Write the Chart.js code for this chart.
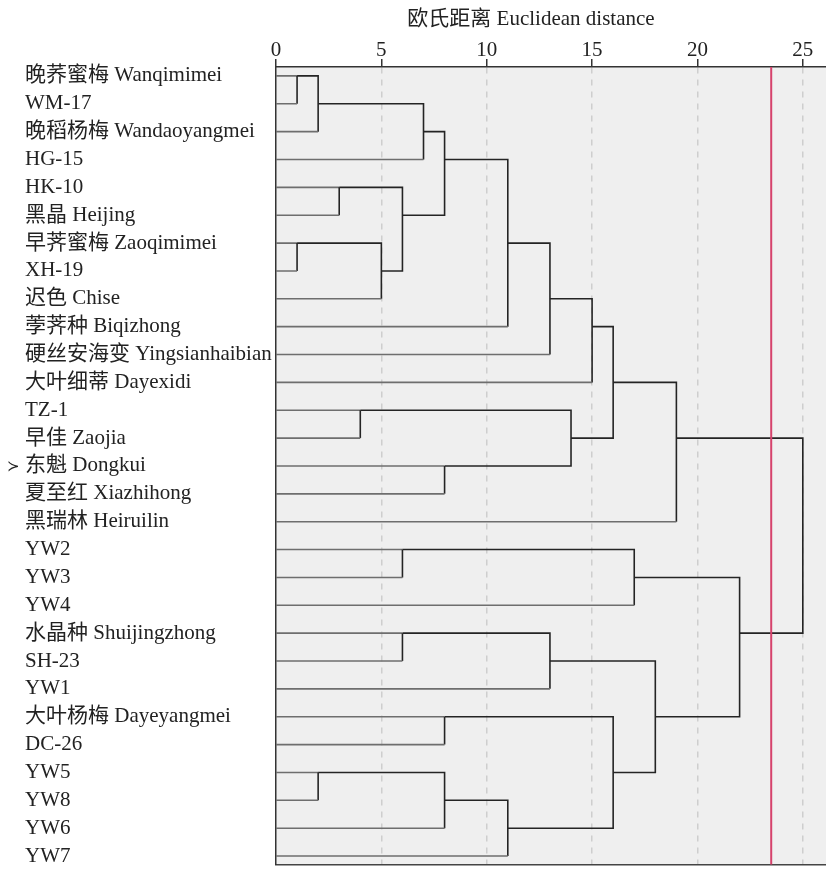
<!DOCTYPE html>
<html>
<head>
<meta charset="utf-8">
<script src="https://cdn.jsdelivr.net/npm/chart.js@4/dist/chart.umd.min.js"></script>
<style>
  html, body { margin: 0; padding: 0; background: #ffffff; }
  #wrap { width: 826px; height: 880px; }
</style>
</head>
<body>
<div id="wrap"><canvas id="c" width="826" height="880"></canvas></div>
<script>
// ---- data ----
const leafLabels = [
  "晚荞蜜梅 Wanqimimei", "WM-17", "晚稻杨梅 Wandaoyangmei", "HG-15", "HK-10",
  "黑晶 Heijing", "早荠蜜梅 Zaoqimimei", "XH-19", "迟色 Chise", "荸荠种 Biqizhong",
  "硬丝安海变 Yingsianhaibian", "大叶细蒂 Dayexidi", "TZ-1", "早佳 Zaojia", "东魁 Dongkui",
  "夏至红 Xiazhihong", "黑瑞林 Heiruilin", "YW2", "YW3", "YW4",
  "水晶种 Shuijingzhong", "SH-23", "YW1", "大叶杨梅 Dayeyangmei", "DC-26",
  "YW5", "YW8", "YW6", "YW7"
];
// merges: ids 0..28 are leaves, 29.. are merges in this order
const mergeLeft   = [0, 29, 30, 4, 6, 33, 32, 31, 36, 37, 38, 12, 14, 40, 39, 43, 17, 45, 20, 47, 23, 25, 50, 51, 49, 48, 46, 44];
const mergeRight  = [1, 2, 3, 5, 7, 8, 34, 35, 9, 10, 11, 13, 15, 41, 42, 16, 18, 19, 21, 22, 24, 26, 27, 28, 52, 53, 54, 55];
const mergeHeight = [1, 2, 7, 3, 1, 5, 6, 8, 11, 13, 15, 4, 8, 14, 16, 19, 6, 17, 6, 13, 8, 2, 8, 11, 16, 18, 22, 25];
const cutHeight = 23.5;
const xTickValues = [0, 5, 10, 15, 20, 25];
const xMax = 26.1;
const markedLeaf = 14;
const axisTitle = "欧氏距离 Euclidean distance";

// ---- build dendrogram links from the tree ----
const nLeaf = leafLabels.length;
const pos = leafLabels.map((_, i) => i);
const hgt = leafLabels.map(() => 0);
const leafColor = '#6e6e6e';
const linkColor = '#242424';
const datasets = [];

datasets.push({
  data: [{x: cutHeight, y: -0.4}, {x: cutHeight, y: nLeaf}],
  borderColor: 'rgb(214, 66, 108)',
  borderWidth: 2,
  pointRadius: 0,
  xAxisID: 'x', yAxisID: 'y'
});

mergeHeight.forEach((H, k) => {
  const a = mergeLeft[k], b = mergeRight[k];
  const ya = pos[a], yb = pos[b];
  pos.push(Math.floor((ya + yb) / 2));
  hgt.push(H);
  const aLeaf = a < nLeaf, bLeaf = b < nLeaf;
  datasets.push({
    data: [{x: hgt[a], y: ya}, {x: H, y: ya}, {x: H, y: yb}, {x: hgt[b], y: yb}],
    borderColor: linkColor,
    borderWidth: 1.6,
    pointRadius: 0,
    tension: 0,
    xAxisID: 'x', yAxisID: 'y',
    segment: {
      borderColor: (ctx) => {
        if (ctx.p0DataIndex === 0 && aLeaf) return leafColor;
        if (ctx.p0DataIndex === 2 && bLeaf) return leafColor;
        return linkColor;
      }
    }
  });
});

const FONT = '"Liberation Serif", "Times New Roman", "Noto Sans CJK SC", serif';

const bgPlugin = {
  id: 'bg',
  beforeDraw(chart) {
    const {ctx, chartArea: a} = chart;
    ctx.save();
    ctx.fillStyle = '#efefef';
    ctx.fillRect(a.left, a.top, a.right - a.left, a.bottom - a.top);
    ctx.restore();
  },
  afterDraw(chart) {
    const {ctx} = chart;
    ctx.save();
    // axis title
    ctx.fillStyle = '#222';
    ctx.font = '21px ' + FONT;
    ctx.textAlign = 'center';
    ctx.textBaseline = 'middle';
    ctx.fillText(axisTitle, 531, 19);
    // marker in front of a highlighted leaf
    const y = chart.scales.y.getPixelForValue(markedLeaf);
    ctx.font = '15px "DejaVu Sans", sans-serif';
    ctx.textAlign = 'left';
    ctx.fillText('≻', 7, y + 1);
    ctx.restore();
  }
};

new Chart(document.getElementById('c'), {
  type: 'line',
  data: { datasets },
  plugins: [bgPlugin],
  options: {
    responsive: false,
    animation: false,
    layout: { padding: { left: 25, right: 0, top: 0, bottom: 0 } },
    plugins: { legend: { display: false }, tooltip: { enabled: false }, title: { display: false } },
    scales: {
      x: {
        type: 'linear',
        position: 'top',
        min: 0, max: xMax,
        afterBuildTicks: (s) => { s.ticks = xTickValues.map(v => ({value: v})); },
        afterFit: (s) => { s.height = 67; },
        ticks: {
          color: '#222',
          padding: 0,
          font: { family: FONT, size: 21, lineHeight: 0.8 },
          maxRotation: 0
        },
        grid: {
          display: true,
          drawOnChartArea: true,
          drawTicks: true,
          tickLength: 8,
          color: (ctx) => (ctx.tick && ctx.tick.value === 0) ? 'rgba(0,0,0,0)' : '#cecece',
          lineWidth: 1.5,
          tickColor: '#333',
          tickWidth: 1.5,
          tickBorderDash: [8, 0]
        },
        border: { display: true, color: '#333', width: 1.5, dash: [6, 6] }
      },
      x2: {
        type: 'linear',
        position: 'bottom',
        min: 0, max: xMax,
        afterFit: (s) => { s.height = 6; },
        ticks: { display: false },
        grid: { display: false, drawTicks: false },
        border: { display: true, color: '#444', width: 1.5 }
      },
      y: {
        type: 'linear',
        position: 'left',
        reverse: true,
        min: -0.32, max: 28.3,
        afterBuildTicks: (s) => { s.ticks = leafLabels.map((_, i) => ({value: i})); },
        afterFit: (s) => { s.width = 251; },
        ticks: {
          autoSkip: false,
          crossAlign: 'far',
          color: '#222',
          font: { family: FONT, size: 21 },
          callback: (v) => leafLabels[v]
        },
        grid: { display: false, drawTicks: false },
        border: { display: true, color: '#333', width: 1.5 }
      }
    }
  }
});
</script>
</body>
</html>
